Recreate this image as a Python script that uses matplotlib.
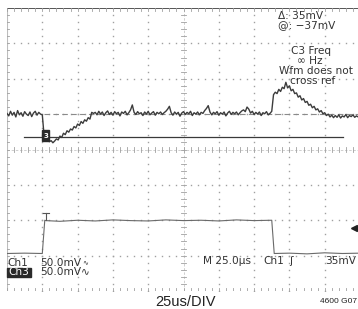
import numpy as np
import matplotlib
matplotlib.use("Agg")
import matplotlib.pyplot as plt
from matplotlib.patches import Rectangle

# ---------------- data (in screen divisions) ----------------
# Ch3 trace, sampled every 0.05 div from 0 to 10 div
ch3_values = [
    1.02, 0.95, 1.08, 0.97, 1.05, 0.92, 1.10, 0.98, 1.04, 0.94,
    1.07, 1.00, 0.96, 1.06, 0.93, 1.03, 1.08, 0.97, 1.05, 1.00,
    0.98, 0.40, 0.30, 0.27, 0.22, 0.25, 0.19, 0.24, 0.30, 0.27,
    0.38, 0.34, 0.46, 0.42, 0.53, 0.49, 0.58, 0.55, 0.65, 0.61,
    0.72, 0.68, 0.79, 0.74, 0.84, 0.80, 0.90, 0.86, 1.05, 1.02,
    1.05, 0.98, 1.08, 1.00, 1.06, 0.96, 1.04, 1.09, 0.99, 1.05,
    0.97, 1.07, 1.01, 1.05, 0.95, 1.06, 1.02, 1.08, 0.98, 1.04,
    1.12, 1.26, 1.05, 0.99, 1.07, 1.01, 1.04, 0.96, 1.06, 1.00,
    1.08, 0.98, 1.03, 1.07, 0.97, 1.05, 1.01, 1.06, 0.99, 1.04,
    1.08, 1.14, 1.22, 1.04, 0.97, 1.06, 1.00, 1.05, 0.94, 1.03,
    1.07, 0.99, 1.05, 1.01, 1.08, 0.96, 1.04, 1.00, 1.06, 0.98,
    1.05, 1.02, 1.10, 1.16, 1.24, 1.06, 0.98, 1.05, 1.01, 1.07,
    0.97, 1.04, 1.00, 1.06, 0.95, 1.03, 1.08, 0.99, 1.05, 1.01,
    1.06, 0.98, 1.04, 1.09, 1.12, 1.07, 1.20, 1.14, 1.03, 1.08,
    0.99, 1.05, 1.00, 1.06, 0.96, 1.04, 1.01, 1.07, 0.98, 1.02,
    1.08, 1.55, 1.62, 1.58, 1.70, 1.64, 1.76, 1.72, 1.90, 1.74,
    1.80, 1.66, 1.70, 1.58, 1.60, 1.48, 1.52, 1.40, 1.44, 1.33,
    1.36, 1.25, 1.28, 1.18, 1.22, 1.12, 1.15, 1.06, 1.10, 1.01,
    1.04, 0.96, 1.00, 0.92, 0.97, 0.90, 0.96, 0.91, 0.98, 0.89,
    0.95, 0.92, 0.99, 0.90, 0.96, 0.93, 0.98, 0.91, 0.95, 0.92,
    0.96,
]
ch3_time = np.linspace(0, 10, len(ch3_values))

# Ch1 trace (pulse)
ch1_time = [0, 0.5, 1.0, 1.07, 1.1, 1.5, 2.0, 2.5, 3.0, 3.5, 4.0, 4.5, 5.0,
            5.5, 6.0, 6.5, 7.0, 7.5, 7.57, 8.0, 8.5, 9.0, 9.5, 10.0]
ch1_values = [-2.94, -2.93, -2.94, -2.00, -2.01, -2.03, -2.00, -2.02, -1.99,
              -2.01, -2.02, -1.99, -2.01, -2.00, -2.02, -1.99, -2.01, -2.00,
              -2.94, -2.93, -2.95, -2.92, -2.94, -2.93]

ch3_ref_level = 1.0
cursor_level = 0.34
cursor_span = [0.48, 9.52]

readout_top = ["Δ: 35mV", "@: −37mV"]
meas_lines = ["C3 Freq", "∞ Hz", "Wfm does not", "cross ref"]
x_label = "25us/DIV"
fig_id = "4600 G07"

# ---------------- figure ----------------
W, H = 358, 309
fig = plt.figure(figsize=(W / 100, H / 100), dpi=100)
ax = fig.add_axes([7 / W, 1 - 291 / H, 353 / W, 283 / H])
ax.set_xlim(0, 10)
ax.set_ylim(-4, 4)
ax.axis("off")

grid_c = "#a0a0a0"
fine = np.linspace(0, 10, 51)
finey = np.linspace(-4, 4, 41)

# dotted graticule
for d in range(1, 10):
    if d == 5:
        continue
    ax.plot(np.full(41, d), finey, ls="none", marker="s", ms=1.0,
            color=grid_c, mew=0)
for d in range(-3, 4):
    if d == 0:
        continue
    ax.plot(fine, np.full(51, d), ls="none", marker="s", ms=1.0,
            color=grid_c, mew=0)

# center lines with ticks
ax.plot([5, 5], [-4, 4], color="#c8c8c8", lw=0.6, ls=(0, (3, 2)))
ax.plot([0, 10], [0, 0], color="#c8c8c8", lw=0.6, ls=(0, (3, 2)))
for yv in finey:
    ax.plot([4.93, 5.07], [yv, yv], color=grid_c, lw=0.6)
for xv in fine:
    ax.plot([xv, xv], [-0.08, 0.08], color=grid_c, lw=0.6)

# borders
ax.plot([0, 0], [-4, 4], color="#bdbdbd", lw=0.8)
for yv in finey:
    ax.plot([0, 0.07], [yv, yv], color=grid_c, lw=0.6)
ax.plot([0, 10], [4, 4], color="#555555", lw=1.4)
for xv in fine:
    ax.plot([xv, xv], [3.92, 4], color=grid_c, lw=0.6)
    ax.plot([xv, xv], [-4, -3.92], color=grid_c, lw=0.6)
ax.plot([0, 10], [-4, -4], color="#d0d0d0", lw=0.6)

# reference and cursor lines
ax.plot([1.05, 10], [ch3_ref_level, ch3_ref_level], color="#8a8a8a",
        lw=0.8, ls=(0, (5, 3)))
ax.plot(cursor_span, [cursor_level, cursor_level], color="#3a3a3a", lw=0.9)

# traces
ax.plot(ch3_time, ch3_values, color="#3c3c3c", lw=1.0)
ax.plot(ch1_time, ch1_values, color="#6a6a6a", lw=0.8)

# markers
ax.add_patch(Rectangle((0.98, 0.24), 0.22, 0.30, color="#2a2a2a", zorder=5))
ax.text(1.09, 0.39, "3", color="white", fontsize=5, ha="center",
        va="center", zorder=6, fontweight="bold")
ax.plot([1.1, 1.1], [-2.0, -1.8], color="#555555", lw=0.8)
ax.plot([1.02, 1.18], [-1.8, -1.8], color="#555555", lw=0.8)
ax.plot([9.83], [-2.23], marker="<", ms=4, color="#222222")


def ftxt(px, py, s, **kw):
    fig.text(px / W, 1 - py / H, s, **kw)


tc = "#333333"
fs = 7.6
ftxt(278, 16, readout_top[0], fontsize=fs, color=tc, va="center")
ftxt(278, 25, readout_top[1], fontsize=fs, color=tc, va="center")
for txt, cx, cy in zip(meas_lines, [311, 310, 316, 313], [51, 61, 71, 81]):
    ftxt(cx, cy, txt, fontsize=fs, color=tc, ha="center", va="center")

ftxt(7, 263, "Ch1", fontsize=fs, color=tc, va="center")
ftxt(40, 263, "50.0mV", fontsize=fs, color=tc, va="center")
ftxt(82, 262, "∿", fontsize=5, color=tc, va="center")
fig.patches.append(Rectangle((7 / W, 1 - 277 / H), 24 / W, 9 / H,
                             transform=fig.transFigure, color="#2a2a2a"))
ftxt(8, 272, "Ch3", fontsize=fs, color="white", va="center")
ftxt(40, 272, "50.0mV∿", fontsize=fs, color=tc, va="center")

ftxt(203, 261, "M 25.0µs", fontsize=fs, color=tc, va="center")
ftxt(263, 261, "Ch1", fontsize=fs, color=tc, va="center")
ftxt(289, 261, "ʃ", fontsize=fs, color=tc, va="center")
ftxt(356, 261, "35mV", fontsize=fs, color=tc, va="center", ha="right")

ftxt(186, 306, x_label, fontsize=10.5, family="Liberation Sans",
     color="#222222", ha="center", va="baseline")
ftxt(357, 298, fig_id, fontsize=6, family="Liberation Sans",
     color="#222222", ha="right", va="top")

fig.savefig("out.png", dpi=100, facecolor="white")
